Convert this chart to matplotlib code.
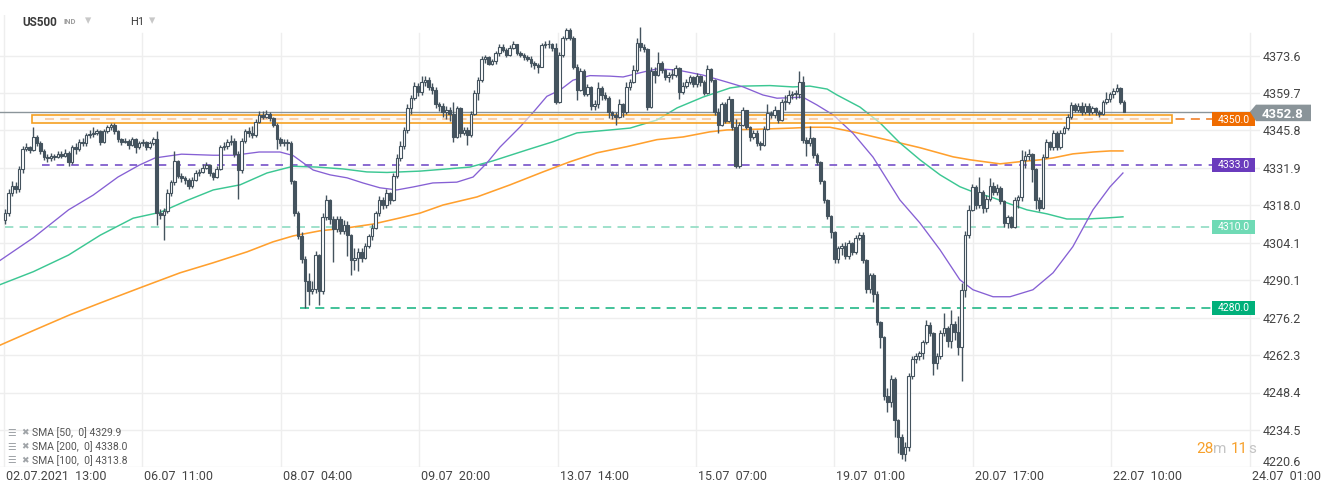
import matplotlib
matplotlib.use("Agg")
import matplotlib.pyplot as plt
from matplotlib.patches import Rectangle, Polygon
from matplotlib import transforms

plt.rcParams['font.family'] = ['Roboto', 'DejaVu Sans']
plt.rcParams['lines.scale_dashes'] = False

# ---------------- data ----------------
open0 = 4312.5
close = [
    4315, 4322.5, 4325, 4324, 4331.5, 4339, 4339.5, 4338.5, 4343.5, 4341, 4338, 4336, 4335.5,
    4336.5, 4336, 4337, 4336.5, 4337.5, 4334, 4339.5, 4339, 4341.5, 4341, 4344, 4344.5, 4345,
    4345.5, 4341.5, 4345.5, 4347, 4348, 4345.5, 4342.5, 4341.5, 4342, 4340.5, 4342.5, 4339.5,
    4341, 4341.5, 4339.5, 4341, 4342.5,
    4315, 4314.5, 4316, 4322.5, 4326.5, 4334.5, 4329, 4328, 4327.5, 4325, 4327.5, 4330, 4330.5,
    4332, 4333, 4330, 4328.5, 4331.5, 4339.5, 4340, 4341.5, 4342, 4337, 4331, 4342, 4345.5,
    4345, 4344, 4349, 4351.5, 4351, 4352, 4350.5, 4348, 4342.5, 4341, 4341.5, 4341,
    4327, 4315, 4306.5, 4298, 4290, 4286, 4287, 4299.5, 4286, 4313.5,
    4320, 4313, 4309, 4313, 4308.5, 4310.5, 4307, 4297.5, 4298.5, 4300.5,
    4298.5, 4303, 4306.5, 4309.5, 4315, 4320, 4318, 4322.5, 4320, 4329,
    4335.5, 4340, 4346, 4354, 4358, 4362.5, 4360, 4364, 4364.5, 4362,
    4361, 4355.5, 4355, 4352.5, 4353.5, 4352, 4343.5,
    4354, 4345, 4346, 4344, 4352, 4359.7, 4364.5, 4372.5, 4373, 4370.5,
    4371.5, 4374.5, 4377, 4375.8, 4373.8, 4376.5, 4377.8, 4374.7, 4373.7, 4373,
    4372.5, 4370.8, 4370, 4369.5, 4377.5, 4377.8, 4378, 4376.5, 4356.5, 4374,
    4380, 4383, 4380.3, 4369.5, 4361, 4368, 4359.5, 4362, 4354.8, 4355.5,
    4361.5, 4359, 4358, 4352.5, 4351.5, 4350.8, 4355.5, 4352.5, 4361.8, 4363.8,
    4368.3, 4378.3, 4377, 4376, 4354.6, 4368, 4366.5, 4371, 4368.2, 4365.7,
    4366.5, 4366.5, 4369, 4360, 4362.5, 4364, 4365.5, 4363, 4366, 4364,
    4359.7, 4368.5, 4364.5, 4352.5, 4348, 4355.5, 4349.3, 4357.5, 4347, 4332.5,
    4348, 4353.4, 4347.1, 4343.2, 4345, 4341.1, 4340.5, 4346.5, 4352.3, 4351.7,
    4353.4, 4349.7, 4356.3, 4356.5, 4359, 4359.3, 4359.5, 4363.8, 4342.3, 4341,
    4343, 4336.7, 4334, 4327, 4320, 4314, 4308, 4298, 4302, 4303,
    4299, 4303.8, 4300.6, 4306, 4307, 4297.5, 4287, 4292, 4285, 4274.5,
    4269, 4247, 4245, 4253.5, 4238, 4232, 4225.5, 4228, 4254.5, 4261,
    4262, 4263, 4267, 4273.5, 4270.5, 4259.5, 4262, 4270.5, 4272.5, 4267.5,
    4274, 4271, 4265.5, 4286.5, 4307, 4316.3, 4324.8, 4318, 4323, 4317,
    4320.5, 4325, 4323, 4324.5, 4319.5, 4311.5, 4313.5, 4310, 4320, 4321,
    4335, 4336.5, 4337, 4331.5, 4320, 4317, 4336, 4341.5, 4339.5, 4345,
    4339.5, 4345, 4346.6, 4350.8, 4355.3, 4353.5, 4355, 4352.5, 4355, 4352.5,
    4354, 4352.5, 4352, 4356.3, 4357.5, 4359.3, 4360.5, 4361.5, 4356.5, 4352.8,
]
high = [
    4316.5, 4324, 4327, 4326.5, 4332.5, 4340, 4341, 4340, 4347, 4344, 4342, 4339, 4337,
    4337.5, 4337, 4338, 4338, 4339, 4338, 4340.5, 4341, 4342.5, 4343, 4345, 4346, 4347,
    4346.5, 4346, 4346.5, 4348, 4348.5, 4348.5, 4346, 4343, 4343, 4342.5, 4343.5, 4343,
    4342, 4342.5, 4342, 4342, 4343.5,
    4345.5, 4316.5, 4317, 4324, 4327.5, 4338, 4335, 4330, 4329, 4328, 4328.5, 4331, 4331.5,
    4333.5, 4334, 4333.5, 4330.5, 4332.5, 4340.5, 4341.5, 4342.5, 4344, 4343, 4338, 4343, 4346.5,
    4347, 4347.5, 4350, 4353, 4353, 4353.5, 4352.5, 4351, 4348.5, 4343.5, 4342.5, 4342.5,
    4342, 4327.5, 4316, 4308, 4299, 4293, 4290, 4301, 4300, 4315,
    4322, 4320.5, 4314, 4314, 4314, 4312.5, 4312, 4307.5, 4302, 4302,
    4302, 4304, 4307.5, 4311, 4316, 4321.5, 4321, 4324, 4323, 4330,
    4337, 4342, 4347, 4355.5, 4359, 4364, 4363.5, 4366, 4366, 4365.5,
    4363.5, 4362, 4356.5, 4356, 4355, 4354.5, 4356.5,
    4355, 4354.5, 4347, 4347, 4353, 4361, 4365.5, 4373.5, 4374, 4373.5,
    4372.5, 4375.5, 4378, 4378, 4376.5, 4377.5, 4379, 4378, 4375.5, 4374.5,
    4374, 4373.5, 4371.5, 4371, 4378.5, 4379, 4379.5, 4378.5, 4378.5, 4375,
    4381, 4384, 4384, 4381, 4370.5, 4369, 4368.5, 4363, 4362.5, 4357,
    4364, 4362.5, 4360, 4358.5, 4353, 4352.5, 4357.5, 4356, 4364, 4365,
    4370, 4380, 4384.3, 4378, 4376.5, 4369.5, 4369.5, 4375, 4371.5, 4368.8,
    4367.5, 4368.5, 4370, 4369.5, 4364, 4365, 4366.5, 4366, 4367, 4366.5,
    4364.5, 4370, 4369, 4365, 4354, 4356.5, 4356.5, 4358.5, 4357.5, 4350,
    4349, 4354.5, 4353.5, 4347.5, 4346, 4346, 4342, 4347.5, 4355.5, 4353,
    4355, 4353.5, 4357.5, 4359, 4361, 4360.5, 4361, 4368, 4366, 4343.5,
    4347.5, 4343.5, 4337.5, 4334.5, 4327.5, 4320.5, 4314.5, 4308.5, 4303, 4304,
    4304.5, 4305, 4304.5, 4307, 4308, 4308, 4298, 4293, 4293, 4286,
    4275, 4269.5, 4250, 4255, 4254, 4238.5, 4233, 4230, 4255.5, 4262,
    4263, 4264, 4268, 4275.5, 4274.5, 4271, 4263, 4271.5, 4278, 4273,
    4279, 4275, 4277, 4289, 4308.5, 4318, 4326, 4325.5, 4328.5, 4323.5,
    4322, 4328, 4326.5, 4326, 4325, 4320, 4314.5, 4314, 4321, 4322,
    4338.5, 4338, 4339, 4337.5, 4332, 4321, 4337, 4342.5, 4342, 4346,
    4345.5, 4346, 4347.5, 4352, 4356.5, 4356, 4356, 4356.5, 4356, 4356,
    4355, 4354.5, 4353.5, 4357, 4360, 4360, 4361.5, 4363, 4362, 4357,
]
low = [
    4311, 4314, 4321.5, 4322.5, 4323, 4330, 4338, 4337.5, 4338, 4340, 4337, 4335, 4334,
    4334.5, 4335, 4335.5, 4335.5, 4336, 4332.5, 4333.5, 4337, 4338, 4340, 4340, 4343, 4343.5,
    4344, 4340.5, 4341, 4345, 4346, 4344.5, 4341.5, 4340.5, 4341, 4339, 4340, 4337.5,
    4339, 4340, 4338.5, 4339, 4340.5,
    4310.5, 4313, 4305, 4315, 4321.5, 4325.5, 4328, 4326.5, 4326, 4324, 4324.5, 4327, 4329,
    4330, 4331.5, 4329, 4327.5, 4328, 4331, 4338.5, 4339, 4340.5, 4336, 4320.5, 4330, 4341,
    4343.5, 4343, 4343.5, 4348.5, 4350, 4350.5, 4349.5, 4347, 4339, 4340, 4340, 4338.5,
    4326, 4314, 4305.5, 4296.5, 4280, 4281, 4285, 4285.5, 4281, 4285,
    4312.5, 4311, 4297, 4308, 4307.5, 4307.5, 4299, 4292, 4294, 4293.5,
    4297, 4298, 4302, 4305, 4309, 4314, 4316.5, 4317, 4318.5, 4319.5,
    4328, 4334.5, 4339, 4345, 4352, 4357, 4358.5, 4359, 4362.5, 4361,
    4359.5, 4354, 4353, 4351, 4350, 4349.5, 4341.5,
    4343, 4343.5, 4344, 4340.5, 4343.5, 4351.5, 4357, 4364, 4371, 4370,
    4370, 4370.5, 4373.5, 4375, 4373, 4373.5, 4376, 4374, 4373, 4372,
    4371.5, 4369.5, 4368.5, 4367, 4369.5, 4376.5, 4376.5, 4375.5, 4355.5, 4356,
    4373, 4379.5, 4379.5, 4368.5, 4357, 4360.5, 4358.5, 4358.5, 4353.5, 4353.5,
    4354, 4357, 4357, 4350.5, 4350, 4348, 4350.5, 4351, 4352, 4361,
    4363.5, 4367.5, 4375.5, 4375, 4353.5, 4354, 4363.5, 4366, 4367, 4364.5,
    4364, 4365, 4365.5, 4357.6, 4359.5, 4361.5, 4363, 4362, 4362, 4362.5,
    4359, 4359.5, 4364, 4351.5, 4345, 4347.5, 4348.5, 4349, 4346, 4332,
    4332, 4347.5, 4346.5, 4342, 4342.5, 4340, 4338.5, 4340, 4346, 4350.5,
    4350.5, 4348.5, 4349.5, 4353.5, 4355.5, 4357.5, 4357.5, 4358, 4341, 4336.5,
    4340, 4335.5, 4333, 4326, 4319, 4313, 4306, 4296.5, 4296.5, 4299.5,
    4298, 4298, 4299.5, 4300, 4305, 4296.5, 4285.5, 4285.5, 4282, 4273.5,
    4265, 4245.5, 4241, 4243, 4232, 4226, 4223.5, 4223, 4226.5, 4253.5,
    4259.5, 4260.5, 4261, 4266.5, 4269.5, 4255, 4257, 4261, 4269.5, 4265.5,
    4265, 4268, 4262.5, 4252.5, 4284, 4306, 4316, 4316.5, 4317, 4315,
    4315.5, 4319.5, 4322, 4322, 4318.5, 4310, 4309.5, 4309.5, 4309.5, 4317,
    4319.5, 4332, 4335, 4326.5, 4316.5, 4316, 4316.5, 4335.5, 4338.5, 4338.5,
    4338.5, 4339, 4344.5, 4346, 4350, 4352.5, 4352.5, 4351.5, 4352, 4351.5,
    4352, 4351.5, 4351, 4351.5, 4355.5, 4356.5, 4358, 4360, 4355.5, 4352.5,
]

# moving averages (candle index, value)
sma50_i = [-1.4, 8, 18, 25, 32, 38, 42.5, 50, 59, 65, 72, 77.9, 81.6, 87.3, 92.1, 96.9, 101.4,
           106.2, 111, 115.6, 121.2, 128, 132.6, 136.5, 140.2, 145.9, 149.6, 153.5, 157.2,
           160.9, 165.7, 171.4, 175.1, 180.7, 184.7, 190.4, 197.7, 204.5, 209.1, 214.7, 218.7,
           226, 230, 234.6, 240.2, 245.9, 253.5, 259.2, 264.9, 270.5, 274.2, 279.9, 284.7,
           291.2, 296.9, 302.5, 308.2, 313, 316.7]
sma50_v = [4297.5, 4305.9, 4316.3, 4321.8, 4328.5, 4332.9, 4335.6, 4337, 4336.6, 4336.6, 4337.8,
           4337.8, 4336.5, 4331.1, 4329.3, 4328.2, 4326.3, 4324.5, 4323.7, 4324.8, 4326.3,
           4326.6, 4328.5, 4333.7, 4339.6, 4347.1, 4352.5, 4358.5, 4360.8, 4364.5, 4366.2,
           4366, 4365.7, 4367.5, 4368.7, 4368.3, 4366.4, 4363.8, 4362, 4359, 4357.8, 4358.2,
           4355.3, 4351.6, 4344.8, 4335.9, 4320, 4311.4, 4301.4, 4290.3, 4286.6, 4284, 4284,
           4286.6, 4292.9, 4302.6, 4316.3, 4324.8, 4330]
sma100_i = [-1.4, 8, 18, 27, 36.3, 44, 51.6, 59, 66.6, 74.2, 81.6, 88.4, 95.8, 102.5, 108.2,
            117.6, 131.7, 138.2, 147.9, 155.2, 162, 171.4, 177.1, 184.7, 190.4, 197.7, 205.4,
            209.1, 216.7, 223.2, 228, 232.9, 235.7, 242.2, 247.9, 253.5, 259.2, 264.9, 270.5,
            274.2, 279.9, 284.7, 289.5, 295.2, 300.8, 306.5, 312.2, 316.7]
sma100_v = [4288.5, 4293.3, 4299.5, 4306.9, 4313.2, 4315.4, 4319.8, 4323.7, 4325.6, 4330, 4332.5,
            4332.2, 4331.5, 4330.4, 4330.2, 4330.7, 4332.2, 4334.5, 4338.6, 4341.6, 4344.9,
            4346, 4346.7, 4349.7, 4354.2, 4358.2, 4361.6, 4362.3, 4362.5, 4362, 4362.3, 4361.2,
            4359, 4354.5, 4348.6, 4341.2, 4334.9, 4329.3, 4324.9, 4323, 4320.8, 4318.5, 4316.3,
            4314.8, 4312.9, 4312.9, 4313.3, 4313.7]
sma200_i = [-1.4, 8.5, 18.4, 27, 38.2, 49.6, 58.9, 68.6, 75.9, 81.6, 89.2, 96.9, 104.2, 111.9,
            117.6, 124.1, 133.7, 143.1, 152.4, 160.1, 167.7, 176.2, 184.7, 192.1, 199.7, 204.5,
            213.9, 223.2, 228, 233.7, 240.2, 249.9, 259.2, 268.6, 273.4, 281.9, 287.5, 293.2,
            296.9, 302.5, 308.2, 313, 316.7]
sma200_v = [4266, 4271.7, 4277.3, 4281.7, 4287.3, 4292.9, 4296.6, 4300.7, 4304.4, 4306.6, 4308.5,
            4309.6, 4311, 4313.3, 4315.1, 4318.1, 4321.1, 4325.6, 4330.4, 4334.2, 4337.5,
            4339.8, 4342.4, 4343.4, 4345.3, 4346, 4346.3, 4346.7, 4347, 4347, 4345.3, 4342.3,
            4339.4, 4336, 4334.9, 4333.4, 4334.2, 4334.9, 4335.6, 4337.1, 4337.8, 4338.2, 4338.2]

levels = [4350.0, 4333.0, 4310.0, 4280.0]
level_labels = ["4350.0", "4333.0", "4310.0", "4280.0"]
current_price = 4352.8
zone_low, zone_high = 4348.7, 4351.7

y_ticks = [4373.6, 4359.7, 4345.8, 4331.9, 4318.0, 4304.1, 4290.1, 4276.2, 4262.3, 4248.4,
           4234.5, 4220.6]
x_labels = ["02.07.2021  13:00", "06.07  11:00", "08.07  04:00", "09.07  20:00", "13.07  14:00",
            "15.07  07:00", "19.07  01:00", "20.07  17:00", "22.07  10:00", "24.07  01:00"]
legend_rows = ["SMA [50,  0] 4329.9", "SMA [200,  0] 4338.0", "SMA [100,  0] 4313.8"]

# ---------------- layout ----------------
W, H = 1323, 493
fig = plt.figure(figsize=(W / 100, H / 100), dpi=100)
fig.patch.set_facecolor('white')
AX_R, AX_T, AX_B = 1260, 15, 467.3
ax = fig.add_axes([0, (H - AX_B) / H, AX_R / W, (AX_B - AX_T) / H])
X0, DX = 5.0, 3.53          # pixel of first candle, pixels per candle
PPP = 2.690                 # pixels per price point
ax.set_xlim((0 - X0) / DX, (AX_R - X0) / DX)
ax.set_ylim(4220.6, 4373.6 + (55.7 - AX_T) / PPP)
ax.axis('off')

def px2i(px):
    return (px - X0) / DX

fx = lambda x: x / W
fy = lambda y: 1 - y / H
blend_fy = transforms.blended_transform_factory(fig.transFigure, ax.transData)
blend_xf = transforms.blended_transform_factory(ax.transData, fig.transFigure)

GRID = '#eeeeee'
for t in y_ticks:
    ax.axhline(t, color=GRID, lw=1, zorder=0)
grid_px = [4 + 138.4 * k for k in range(10)]
for k, g in enumerate(grid_px):
    top = 1.0 if k == 0 else (AX_B - 33) / (AX_B - AX_T)
    ax.axvline(px2i(g), ymin=0, ymax=top, color=GRID, lw=1, zorder=0)
    ax.text(px2i(g + 2), fy(477), x_labels[k], transform=blend_xf, ha='left', va='center',
            fontsize=9, color='#444444', clip_on=False)

for t in y_ticks:
    yy = t + 1.7 if t == y_ticks[-1] else t - 0.5
    ax.text(fx(1263), yy, f"{t:.1f}", transform=blend_fy, ha='left', va='center',
            fontsize=9, color='#444444', clip_on=False)

# ---------------- level lines ----------------
lab_x0 = 1212
ax.plot([px2i(45), px2i(lab_x0)], [levels[0]] * 2, color='#f0802a', lw=1.2, dashes=(6.5, 4.5), zorder=1.5)
ax.plot([px2i(42), px2i(lab_x0)], [levels[1]] * 2, color='#7650c8', lw=1.2, dashes=(5.5, 5), zorder=1.5)
ax.plot([px2i(5), px2i(lab_x0)], [levels[2]] * 2, color='#8fdcc2', lw=1.2, dashes=(6, 4.5), zorder=1.5)
ax.plot([px2i(300), px2i(lab_x0)], [levels[3]] * 2, color='#22b887', lw=1.2, dashes=(6.5, 4.5), zorder=1.5)

# zone box
ax.add_patch(Rectangle((px2i(32), zone_low), px2i(1172) - px2i(32), zone_high - zone_low,
                       facecolor=(1.0, 0.97, 0.92, 0.6), edgecolor='#f5a021', lw=1.2, zorder=2.2))

# current price line
ax.plot([px2i(0), px2i(1250)], [current_price] * 2, color='#8b959a', lw=1, zorder=2.3)

# moving averages
ax.plot(sma200_i, sma200_v, color='#ffa02e', lw=1.15, zorder=2)
ax.plot(sma100_i, sma100_v, color='#3cc793', lw=1.05, zorder=2)
ax.plot(sma50_i, sma50_v, color='#8660d4', lw=0.95, zorder=2)

# ---------------- candles ----------------
DARK = '#44535e'
opens = [open0] + close[:-1]
xs = list(range(len(close)))
hi = [max(h, o, c) for h, o, c in zip(high, opens, close)]
lo = [min(l, o, c) for l, o, c in zip(low, opens, close)]
ax.vlines(xs, lo, hi, color=DARK, lw=1.0, zorder=3)
bottoms = [min(o, c) for o, c in zip(opens, close)]
heights = [max(abs(c - o), 0.3) for o, c in zip(opens, close)]
faces = ['white' if c >= o else DARK for o, c in zip(opens, close)]
ax.bar(xs, heights, bottom=bottoms, width=0.74, color=faces, edgecolor=DARK, linewidth=0.8,
       zorder=4)

# ---------------- right-side labels ----------------
lab_cols = ['#ef6c00', '#6a3bbd', '#6fdab5', '#00b07a']
hbox = 14 / PPP
for lv, lt, col in zip(levels, level_labels, lab_cols):
    ax.add_patch(Rectangle((fx(lab_x0), lv - hbox / 2), fx(1255) - fx(lab_x0), hbox,
                           transform=blend_fy, facecolor=col, edgecolor='none', clip_on=False,
                           zorder=6))
    ax.text(fx(1233.5), lv - 0.2, lt, transform=blend_fy, ha='center', va='center',
            fontsize=7.5, color='white', clip_on=False, zorder=7)

p = current_price
up, dn = 7 / PPP, 9.5 / PPP
poly = [(fx(1250), p), (fx(1256), p + up), (fx(1311), p + up), (fx(1311), p - dn), (fx(1256), p - dn)]
ax.add_patch(Polygon(poly, closed=True, transform=blend_fy, facecolor='#8a9499', edgecolor='none',
                     clip_on=False, zorder=6))
ax.text(fx(1283), p - 1.0, "4352.8", transform=blend_fy, ha='center', va='center', fontsize=9.5,
        fontweight='bold', color='white', clip_on=False, zorder=7)

# ---------------- header ----------------
fig.text(fx(22), fy(22), "US500", fontsize=8.5, fontweight='bold', color='#3a3a3a', va='center')
fig.text(fx(64), fy(22), "IND", fontsize=5.5, fontweight='bold', color='#9e9e9e', va='center')
fig.text(fx(85), fy(21), "▾", fontsize=9, color='#c8c8c8', va='center', family='DejaVu Sans')
fig.text(fx(130), fy(22), "H1", fontsize=8, color='#3a3a3a', va='center')
fig.text(fx(149), fy(21), "▾", fontsize=9, color='#c8c8c8', va='center', family='DejaVu Sans')

# ---------------- legend ----------------
for k, row in enumerate(legend_rows):
    yy = fy(433 + 13.7 * k)
    fig.text(fx(7), yy, "☰", fontsize=7, color='#a0a4a8', va='center', family='DejaVu Sans')
    fig.text(fx(21), yy, "✖", fontsize=6.5, color='#a0a4a8', va='center', family='DejaVu Sans')
    fig.text(fx(32), yy, row, fontsize=7.5, color='#555555', va='center')

# ---------------- countdown ----------------
fig.text(fx(1196), fy(449), "28", fontsize=11, color='#f7a12c', va='center')
fig.text(fx(1213.5), fy(449), "m", fontsize=11, color='#c4c4c4', va='center')
fig.text(fx(1231), fy(449), "11", fontsize=11, color='#f7a12c', va='center')
fig.text(fx(1248), fy(449), "s", fontsize=11, color='#c4c4c4', va='center')

fig.savefig("out.png", dpi=100, facecolor='white')
